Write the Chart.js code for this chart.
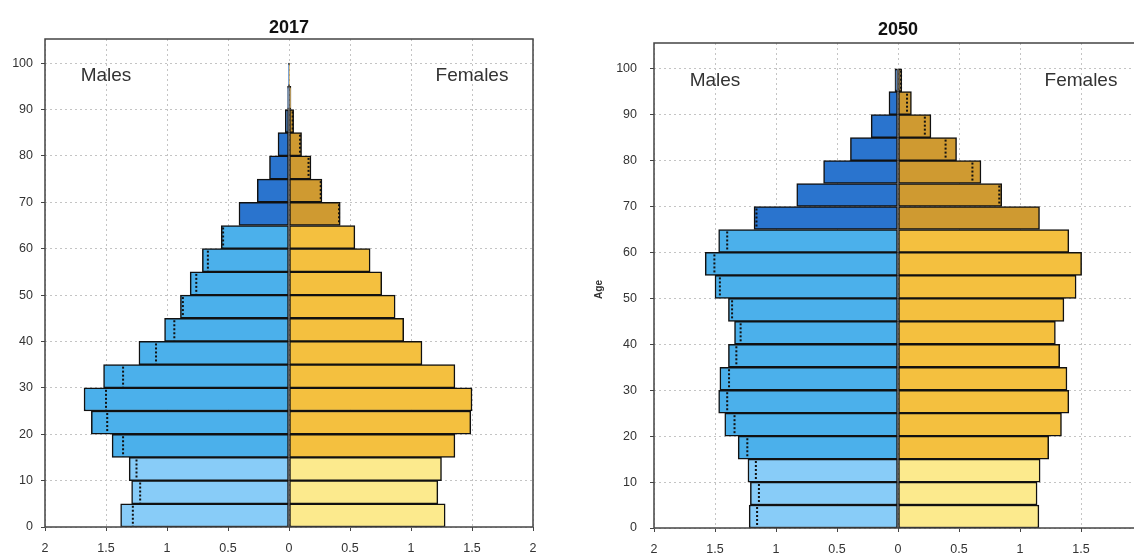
<!DOCTYPE html>
<html>
<head>
<meta charset="utf-8">
<script src="https://cdn.jsdelivr.net/npm/chart.js@4/dist/chart.umd.min.js"></script>
<style>
  html, body { margin: 0; padding: 0; background: #fff; overflow: hidden; }
  #wrap { position: relative; width: 1134px; height: 557px; overflow: hidden; }
  #left { position: absolute; left: 0; top: 0; }
  #right { position: absolute; left: 580px; top: 0; }
</style>
</head>
<body>
<div id="wrap">
  <canvas id="left" width="560" height="557"></canvas>
  <canvas id="right" width="600" height="557"></canvas>
</div>
<script>
// age groups (5-year bands), bar centres on the age axis
const ageGroups = ['0-4', '5-9', '10-14', '15-19', '20-24', '25-29', '30-34', '35-39', '40-44', '45-49',
  '50-54', '55-59', '60-64', '65-69', '70-74', '75-79', '80-84', '85-89', '90-94', '95-99'];
const ageMids = [2.5, 7.5, 12.5, 17.5, 22.5, 27.5, 32.5, 37.5, 42.5, 47.5,
  52.5, 57.5, 62.5, 67.5, 72.5, 77.5, 82.5, 87.5, 92.5, 97.5];
// 0 = child (0-14), 1 = working (15-64), 2 = old (65+)
const ageBand = [0, 0, 0, 1, 1, 1, 1, 1, 1, 1, 1, 1, 1, 2, 2, 2, 2, 2, 2, 2];

// population share (%)
const male2017 = [1.38, 1.29, 1.31, 1.45, 1.62, 1.68, 1.52, 1.23, 1.02, 0.89,
  0.81, 0.71, 0.555, 0.41, 0.26, 0.16, 0.09, 0.03, 0.012, 0.002];
const female2017 = [1.28, 1.22, 1.25, 1.36, 1.49, 1.50, 1.36, 1.09, 0.94, 0.87,
  0.76, 0.665, 0.54, 0.42, 0.27, 0.18, 0.103, 0.038, 0.016, 0.003];
const male2050 = [1.22, 1.21, 1.23, 1.31, 1.42, 1.47, 1.46, 1.39, 1.34, 1.39,
  1.50, 1.58, 1.47, 1.18, 0.83, 0.61, 0.39, 0.22, 0.074, 0.025];
const female2050 = [1.155, 1.14, 1.165, 1.235, 1.34, 1.40, 1.385, 1.325, 1.29, 1.36,
  1.46, 1.505, 1.40, 1.16, 0.85, 0.68, 0.48, 0.27, 0.11, 0.03];

const xTicks = [-2, -1.5, -1, -0.5, 0, 0.5, 1, 1.5, 2];
const yTicks = [0, 10, 20, 30, 40, 50, 60, 70, 80, 90, 100];

const maleColors = ['#88ccf8', '#4bb0eb', '#2a74ce'];
const femaleColors = ['#fcea8d', '#f4c03f', '#cf9a31'];
const fontFamily = '"Liberation Sans", Arial, sans-serif';

function makeDecor(title, male, female, lay) {
  return {
    id: 'decor',
    afterDatasetsDraw(chart) {
      // dotted mark: the other sex's value, shown inside the longer bar
      const ctx = chart.ctx;
      const xs = chart.scales.x;
      const bars = chart.getDatasetMeta(0).data;
      ctx.save();
      ctx.setLineDash([2, 2]);
      ctx.strokeStyle = '#111';
      ctx.lineWidth = 2;
      for (let i = 0; i < male.length; i++) {
        // tiny bars are just their outline, no room for a mark
        if (male[i] < 0.02 && female[i] < 0.02) continue;
        let px = null;
        if (female[i] < male[i]) px = xs.getPixelForValue(-female[i]);
        else if (male[i] < female[i]) px = xs.getPixelForValue(male[i]);
        if (px === null) continue;
        const b = bars[i];
        ctx.beginPath();
        ctx.moveTo(px, b.y - b.height / 2 + 2);
        ctx.lineTo(px, b.y + b.height / 2 - 1);
        ctx.stroke();
      }
      ctx.restore();
    },
    afterDraw(chart) {
      const ctx = chart.ctx;
      const a = chart.chartArea;
      const xs = chart.scales.x;
      const ys = chart.scales.y;
      ctx.save();
      ctx.strokeStyle = '#444';
      ctx.lineWidth = 1.5;
      ctx.strokeRect(a.left, a.top, a.right - a.left, a.bottom - a.top);

      ctx.fillStyle = '#111';
      ctx.textAlign = 'center';
      ctx.textBaseline = 'middle';
      ctx.font = 'bold 18px ' + fontFamily;
      ctx.fillText(title, (a.left + a.right) / 2, a.top - lay.titleGap);

      ctx.fillStyle = '#333';
      ctx.font = '19px ' + fontFamily;
      ctx.fillText('Males', xs.getPixelForValue(-1.5), ys.getPixelForValue(97.3));
      ctx.fillText('Females', xs.getPixelForValue(1.5), ys.getPixelForValue(97.3));

      if (lay.ageLabel) {
        ctx.translate(lay.ageLabel, (a.top + a.bottom) / 2 + 4);
        ctx.rotate(-Math.PI / 2);
        ctx.font = 'bold 10px ' + fontFamily;
        ctx.fillText('Age', 0, 0);
      }
      ctx.restore();
    }
  };
}

function pyramid(canvasId, title, male, female, lay) {
  const grid = {
    color: '#c4c4c4',
    tickColor: '#444',
    tickLength: 4,
    lineWidth: 1,
    offset: false
  };
  return new Chart(document.getElementById(canvasId), {
    type: 'bar',
    data: {
      datasets: [
        {
          label: 'Males',
          data: male.map((v, i) => ({ x: -v, y: ageMids[i] })),
          backgroundColor: ageBand.map(b => maleColors[b])
        },
        {
          label: 'Females',
          data: female.map((v, i) => ({ x: v, y: ageMids[i] })),
          backgroundColor: ageBand.map(b => femaleColors[b])
        }
      ]
    },
    options: {
      indexAxis: 'y',
      responsive: false,
      animation: false,
      layout: { padding: lay.padding },
      datasets: {
        bar: {
          grouped: false,
          barPercentage: 1,
          categoryPercentage: 1,
          borderWidth: 1.5,
          borderColor: '#111',
          borderSkipped: false
        }
      },
      scales: {
        x: {
          type: 'linear',
          min: -2,
          max: 2,
          afterBuildTicks: s => { s.ticks = xTicks.map(v => ({ value: v })); },
          ticks: {
            callback: v => Math.abs(v),
            color: '#333',
            padding: 10,
            maxRotation: 0,
            font: { family: fontFamily, size: 12.5 }
          },
          grid: grid,
          border: { display: false, dash: [2, 3] },
          afterFit: s => { s.height = lay.xHeight; }
        },
        y: {
          type: 'linear',
          min: 0,
          max: lay.yMax,
          offset: false,
          afterBuildTicks: s => { s.ticks = yTicks.map(v => ({ value: v })); },
          ticks: {
            color: '#333',
            padding: lay.yPad,
            font: { family: fontFamily, size: 12.5 }
          },
          grid: grid,
          border: { display: false, dash: [2, 3] },
          afterFit: s => { s.width = lay.yWidth; }
        }
      },
      plugins: {
        legend: { display: false },
        tooltip: { enabled: false }
      }
    },
    plugins: [makeDecor(title, male, female, lay)]
  });
}

pyramid('left', '2017', male2017, female2017, {
  padding: { top: 39, right: 27, bottom: 0, left: 0 },
  yWidth: 45, xHeight: 30, yMax: 105.2, yPad: 8, titleGap: 11, ageLabel: 0
});

pyramid('right', '2050', male2050, female2050, {
  padding: { top: 43, right: 38, bottom: 0, left: 0 },
  yWidth: 74, xHeight: 29, yMax: 105.6, yPad: 13, titleGap: 13, ageLabel: 19
});
</script>
</body>
</html>
